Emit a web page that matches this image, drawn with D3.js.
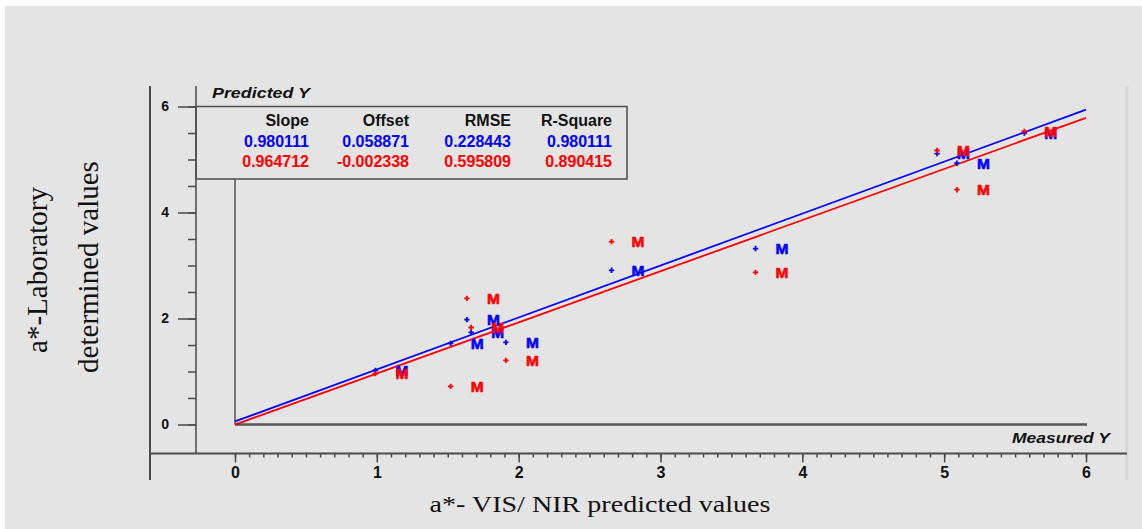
<!DOCTYPE html>
<html>
<head>
<meta charset="utf-8">
<script src="https://cdn.jsdelivr.net/npm/d3@7"></script>
<style>
  html, body { margin: 0; padding: 0; background: #ffffff; }
  svg { display: block; }
  .sans { font-family: "Liberation Sans", Arial, sans-serif; }
  .serif { font-family: "Liberation Serif", "Times New Roman", serif; }
</style>
</head>
<body>
<svg id="chart" width="1142" height="529"></svg>
<script>
// Sample measurements (x = measured, y = predicted) for calibration and validation sets
const sampleNames   = ["M", "M", "M", "M", "M", "M", "M", "M", "M", "M"];
const measuredY     = [0.99, 1.52, 1.635, 1.665, 1.91, 2.655, 3.67, 4.95, 5.09, 5.565];
const calibrationY  = [1.02, 1.53, 1.98, 1.74, 1.55, 2.91, 3.32, 5.11, 4.93, 5.50];
const validationY   = [0.96, 0.72, 2.38, 1.83, 1.21, 3.45, 2.87, 5.17, 4.43, 5.53];

// Regression summary for each set
const statHeaders      = ["Slope", "Offset", "RMSE", "R-Square"];
const calibrationStats = ["0.980111", "0.058871", "0.228443", "0.980111"];
const validationStats  = ["0.964712", "-0.002338", "0.595809", "0.890415"];
const fitSlopes  = [0.980111, 0.964712];
const fitOffsets = [0.058871, -0.002338];

// Axis ticks
const xTickLabels = [0, 1, 2, 3, 4, 5, 6];
const yTickLabels = [0, 2, 4, 6];

const BLUE = "#0000ff", RED = "#ff0000", BG = "#e4e4e4", FRAME = "#4a4a4a";

const svg = d3.select("#chart");

// panel background
svg.append("rect").attr("x", 5).attr("y", 6).attr("width", 1137).attr("height", 523).attr("fill", BG);

const x = d3.scaleLinear().domain([0, 6]).range([235, 1086]);
const y = d3.scaleLinear().domain([0, 6]).range([424.5, 106.5]);

// outer frame lines
svg.append("line").attr("x1", 150).attr("x2", 150).attr("y1", 86).attr("y2", 480)
  .attr("stroke", FRAME).attr("stroke-width", 2);
svg.append("line").attr("x1", 1127).attr("x2", 1127).attr("y1", 86).attr("y2", 480)
  .attr("stroke", "#d6d6d6").attr("stroke-width", 3);
svg.append("line").attr("x1", 196).attr("x2", 196).attr("y1", 86).attr("y2", 453.5)
  .attr("stroke", FRAME).attr("stroke-width", 1.5);
svg.append("line").attr("x1", 150).attr("x2", 1127).attr("y1", 453.5).attr("y2", 453.5)
  .attr("stroke", FRAME).attr("stroke-width", 2);

// bottom axis: minor ticks every 0.1, major ticks with labels at integers
const minorX = d3.range(0, 61).map(i => i / 10);
const gxMinor = svg.append("g").attr("transform", "translate(0,453.5)")
  .call(d3.axisBottom(x).tickValues(minorX).tickSize(4).tickFormat(""));
const gxMajor = svg.append("g").attr("transform", "translate(0,453.5)")
  .call(d3.axisBottom(x).tickValues(xTickLabels).tickSize(9).tickPadding(4).tickFormat(d3.format("d")));
[gxMinor, gxMajor].forEach(g => {
  g.select(".domain").remove();
  g.selectAll(".tick line").attr("stroke", FRAME).attr("stroke-width", 1.5);
});
gxMajor.selectAll(".tick text").attr("class", "sans").attr("font-size", 16).attr("font-weight", "bold")
  .attr("fill", "#111");

// left axis: minor ticks every 0.5, labelled every 2
const minorY = d3.range(0, 13).map(i => i / 2);
const gyMinor = svg.append("g").attr("transform", "translate(196,0)")
  .call(d3.axisLeft(y).tickValues(minorY).tickSize(8).tickFormat(""));
const gyMajor = svg.append("g").attr("transform", "translate(196,0)")
  .call(d3.axisLeft(y).tickValues(yTickLabels).tickSize(18).tickPadding(9).tickFormat(d3.format("d")));
[gyMinor, gyMajor].forEach(g => {
  g.select(".domain").remove();
  g.selectAll(".tick line").attr("stroke", FRAME).attr("stroke-width", 1.5);
});
gyMajor.selectAll(".tick text").attr("class", "sans").attr("font-size", 14).attr("font-weight", "bold")
  .attr("fill", "#111");

// inner origin lines
svg.append("line").attr("x1", x(0)).attr("x2", x(6) + 1).attr("y1", y(0)).attr("y2", y(0))
  .attr("stroke", "#555").attr("stroke-width", 2.5);
svg.append("line").attr("x1", x(0)).attr("x2", x(0)).attr("y1", 179).attr("y2", y(0))
  .attr("stroke", "#333").attr("stroke-width", 1.2);

// axis captions inside the frame
svg.append("text").attr("class", "sans").attr("x", 212).attr("y", 98)
  .attr("font-size", 14).attr("font-weight", "bold").attr("font-style", "italic")
  .attr("textLength", 98).attr("lengthAdjust", "spacingAndGlyphs").attr("fill", "#111")
  .text("Predicted Y");
svg.append("text").attr("class", "sans").attr("x", 1012).attr("y", 443)
  .attr("font-size", 14).attr("font-weight", "bold").attr("font-style", "italic")
  .attr("textLength", 98).attr("lengthAdjust", "spacingAndGlyphs").attr("fill", "#111")
  .text("Measured Y");

// regression lines
const line = d3.line().x(d => x(d[0])).y(d => y(d[1]));
[[0, BLUE], [1, RED]].forEach(([i, col]) => {
  const pts = [0, 6].map(v => [v, fitSlopes[i] * v + fitOffsets[i]]);
  svg.append("path").attr("d", line(pts)).attr("fill", "none")
    .attr("stroke", col).attr("stroke-width", 1.8);
});

// sample points with their name labels
const cross = d3.symbol().type(d3.symbolCross).size(16);
[[calibrationY, BLUE], [validationY, RED]].forEach(([vals, col]) => {
  const g = svg.append("g");
  g.selectAll("path").data(vals).join("path")
    .attr("d", cross)
    .attr("transform", (d, i) => `translate(${x(measuredY[i])},${y(d)})`)
    .attr("fill", col);
  g.selectAll("text").data(vals).join("text")
    .attr("class", "sans")
    .attr("x", (d, i) => x(measuredY[i]) + 26.5)
    .attr("y", d => y(d) + 5.5)
    .attr("text-anchor", "middle")
    .attr("font-size", 15.5).attr("font-weight", "bold")
    .attr("stroke", col).attr("stroke-width", 0.6)
    .attr("fill", col)
    .text((d, i) => sampleNames[i]);
});

// statistics box
svg.append("rect").attr("x", 196).attr("y", 106.5).attr("width", 431).attr("height", 72.5)
  .attr("fill", "none").attr("stroke", FRAME).attr("stroke-width", 1.5);
const colRight = [309, 409, 511, 612];
const rows = [[statHeaders, "#111", 126], [calibrationStats, BLUE, 147], [validationStats, RED, 167]];
rows.forEach(([vals, col, yy]) => {
  svg.append("g").selectAll("text").data(vals).join("text")
    .attr("class", "sans")
    .attr("x", (d, i) => colRight[i]).attr("y", yy)
    .attr("text-anchor", "end")
    .attr("font-size", 16).attr("font-weight", "bold")
    .attr("fill", col)
    .text(d => d);
});

// axis titles
svg.append("text").attr("class", "serif").attr("x", 600).attr("y", 512)
  .attr("text-anchor", "middle").attr("font-size", 23)
  .attr("textLength", 341).attr("lengthAdjust", "spacingAndGlyphs").attr("fill", "#111")
  .text("a*- VIS/ NIR predicted values");
svg.append("text").attr("class", "serif")
  .attr("transform", "translate(47,270) rotate(-90)")
  .attr("text-anchor", "middle").attr("font-size", 29).attr("fill", "#111")
  .text("a*-Laboratory");
svg.append("text").attr("class", "serif")
  .attr("transform", "translate(98,267) rotate(-90)")
  .attr("text-anchor", "middle").attr("font-size", 29).attr("fill", "#111")
  .text("determined values");
</script>
</body>
</html>
